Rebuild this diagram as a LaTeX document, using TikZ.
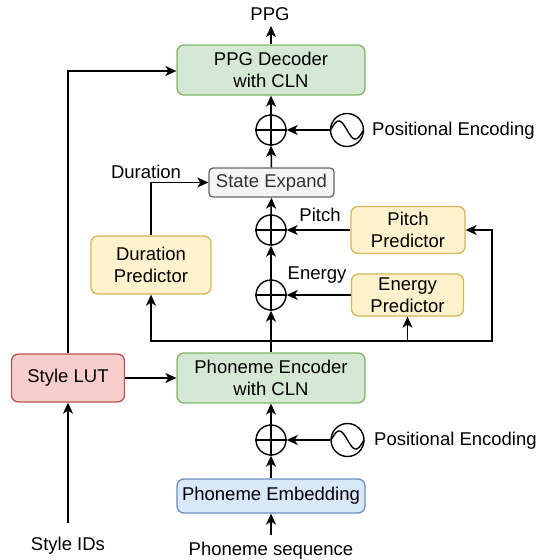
\documentclass[tikz,border=0pt]{standalone}
\usepackage{fontspec}
\setmainfont{Liberation Sans}
\usetikzlibrary{arrows.meta,calc}
\definecolor{gfill}{HTML}{D5E8D4}\definecolor{gline}{HTML}{82B366}
\definecolor{yfill}{HTML}{FFF2CC}\definecolor{yline}{HTML}{D6B656}
\definecolor{rfill}{HTML}{F8CECC}\definecolor{rline}{HTML}{B85450}
\definecolor{bfill}{HTML}{DAE8FC}\definecolor{bline}{HTML}{6C8EBF}
\definecolor{sfill}{HTML}{F5F5F5}\definecolor{sline}{HTML}{666666}
\definecolor{stext}{HTML}{333333}
\begin{document}
\begin{tikzpicture}[x=1pt,y=-1pt,font=\fontsize{18.5}{22}\selectfont,
  box/.style={draw,rounded corners=7pt,line width=1.3pt,inner sep=0pt,align=center},
  greenbox/.style={box,fill=gfill,draw=gline},
  yellowbox/.style={box,fill=yfill,draw=yline},
  redbox/.style={box,fill=rfill,draw=rline},
  bluebox/.style={box,fill=bfill,draw=bline},
  graybox/.style={box,fill=sfill,draw=sline,text=stext,rounded corners=4pt},
  sumnode/.style={circle,draw,line width=1.4pt,minimum size=30pt,inner sep=0pt},
  sinenode/.style={circle,draw,line width=1.4pt,minimum size=33pt,inner sep=0pt},
  lbl/.style={inner sep=0pt},
  conn/.style={line width=1.5pt,-{Stealth[length=11pt,width=10pt,inset=3pt]}},
  plain/.style={line width=1.5pt}]
\useasboundingbox (0,0) rectangle (543,560);

% boxes
\node[greenbox,minimum width=188pt,minimum height=50pt] (dec) at (271,70) {PPG Decoder\\with CLN};
\node[graybox,minimum width=125pt,minimum height=29pt] (se) at (271.5,182.5) {State Expand};
\node[yellowbox,minimum width=114pt,minimum height=47pt] (pp) at (408,230) {Pitch\\Predictor};
\node[yellowbox,minimum width=112pt,minimum height=42pt] (ep) at (407.5,295) {Energy\\Predictor};
\node[yellowbox,minimum width=120pt,minimum height=58pt] (dur) at (151,265) {Duration\\Predictor};
\node[greenbox,minimum width=188pt,minimum height=50pt] (pe) at (271,378) {Phoneme Encoder\\with CLN};
\node[redbox,minimum width=113pt,minimum height=48pt] (lut) at (68,378) {Style LUT};
\node[bluebox,minimum width=188pt,minimum height=34pt] (emb) at (271,496) {Phoneme Embedding};

% sums
\node[sumnode] (sum1) at (271,130) {};
\node[sumnode] (sumP) at (271,230) {};
\node[sumnode] (sumE) at (271,295) {};
\node[sumnode] (sum3) at (271,440) {};
\foreach \s in {sum1,sumP,sumE,sum3}
  \draw[line width=1.4pt] (\s.north) -- (\s.south) (\s.west) -- (\s.east);

% sine sources
\node[sinenode] (sin1) at (347,130) {};
\node[sinenode] (sin3) at (347.5,440) {};
\foreach \s in {sin1,sin3}
  \draw[line width=1.4pt,shift={(\s.center)}] plot[domain=-16.5:16.5,samples=40,smooth] (\x,{9*sin(\x*180/16.5)});

% labels
\node[lbl,anchor=west] (pe1) at (372,131) {Positional Encoding};
\node[lbl,anchor=west] (pe3) at (374,441) {Positional Encoding};
\node[lbl] (ppg) at (270,14) {PPG};
\node[lbl] (durl) at (146,172) {Duration};
\node[lbl] (pitchl) at (320,215) {Pitch};
\node[lbl] (energyl) at (317,275) {Energy};
\node[lbl] (seq) at (271,551) {Phoneme sequence};
\node[lbl] (ids) at (68,546) {Style IDs};

\coordinate (ppgend) at (271,26);
\coordinate (seqstart) at (271,535);
\coordinate (idsstart) at (68,523);
\coordinate (bus) at (271,341);
\coordinate (busr) at (492,341);
\coordinate (lutup) at (68,71);

% connectors
\draw[conn] (dec.north) -- (ppgend);
\draw[conn] (sum1.north) -- (dec.south);
\draw[conn] (sin1.west) -- (sum1.east);
\draw[conn] (se.north) -- (sum1.south);
\draw[conn] (sumP.north) -- (se.south);
\draw[conn] (pp.west) -- (sumP.east);
\draw[conn] (sumE.north) -- (sumP.south);
\draw[conn] (ep.west) -- (sumE.east);
\draw[conn] (pe.north) -- (sumE.south);
\draw[conn] (dur.north) |- (se.west);
\draw[conn] (bus) -| (dur.south);
\draw[conn] (bus) -| (ep.south);
\draw[conn] (bus) -- (busr) |- (pp.east);
\draw[conn] (lut.east) -- (pe.west);
\draw[conn] (lut.north) -- (lutup) -- (dec.west |- lutup);
\draw[conn] (sum3.north) -- (pe.south);
\draw[conn] (sin3.west) -- (sum3.east);
\draw[conn] (emb.north) -- (sum3.south);
\draw[conn] (seqstart) -- (emb.south);
\draw[conn] (idsstart) -- (lut.south);
\end{tikzpicture}
\end{document}
